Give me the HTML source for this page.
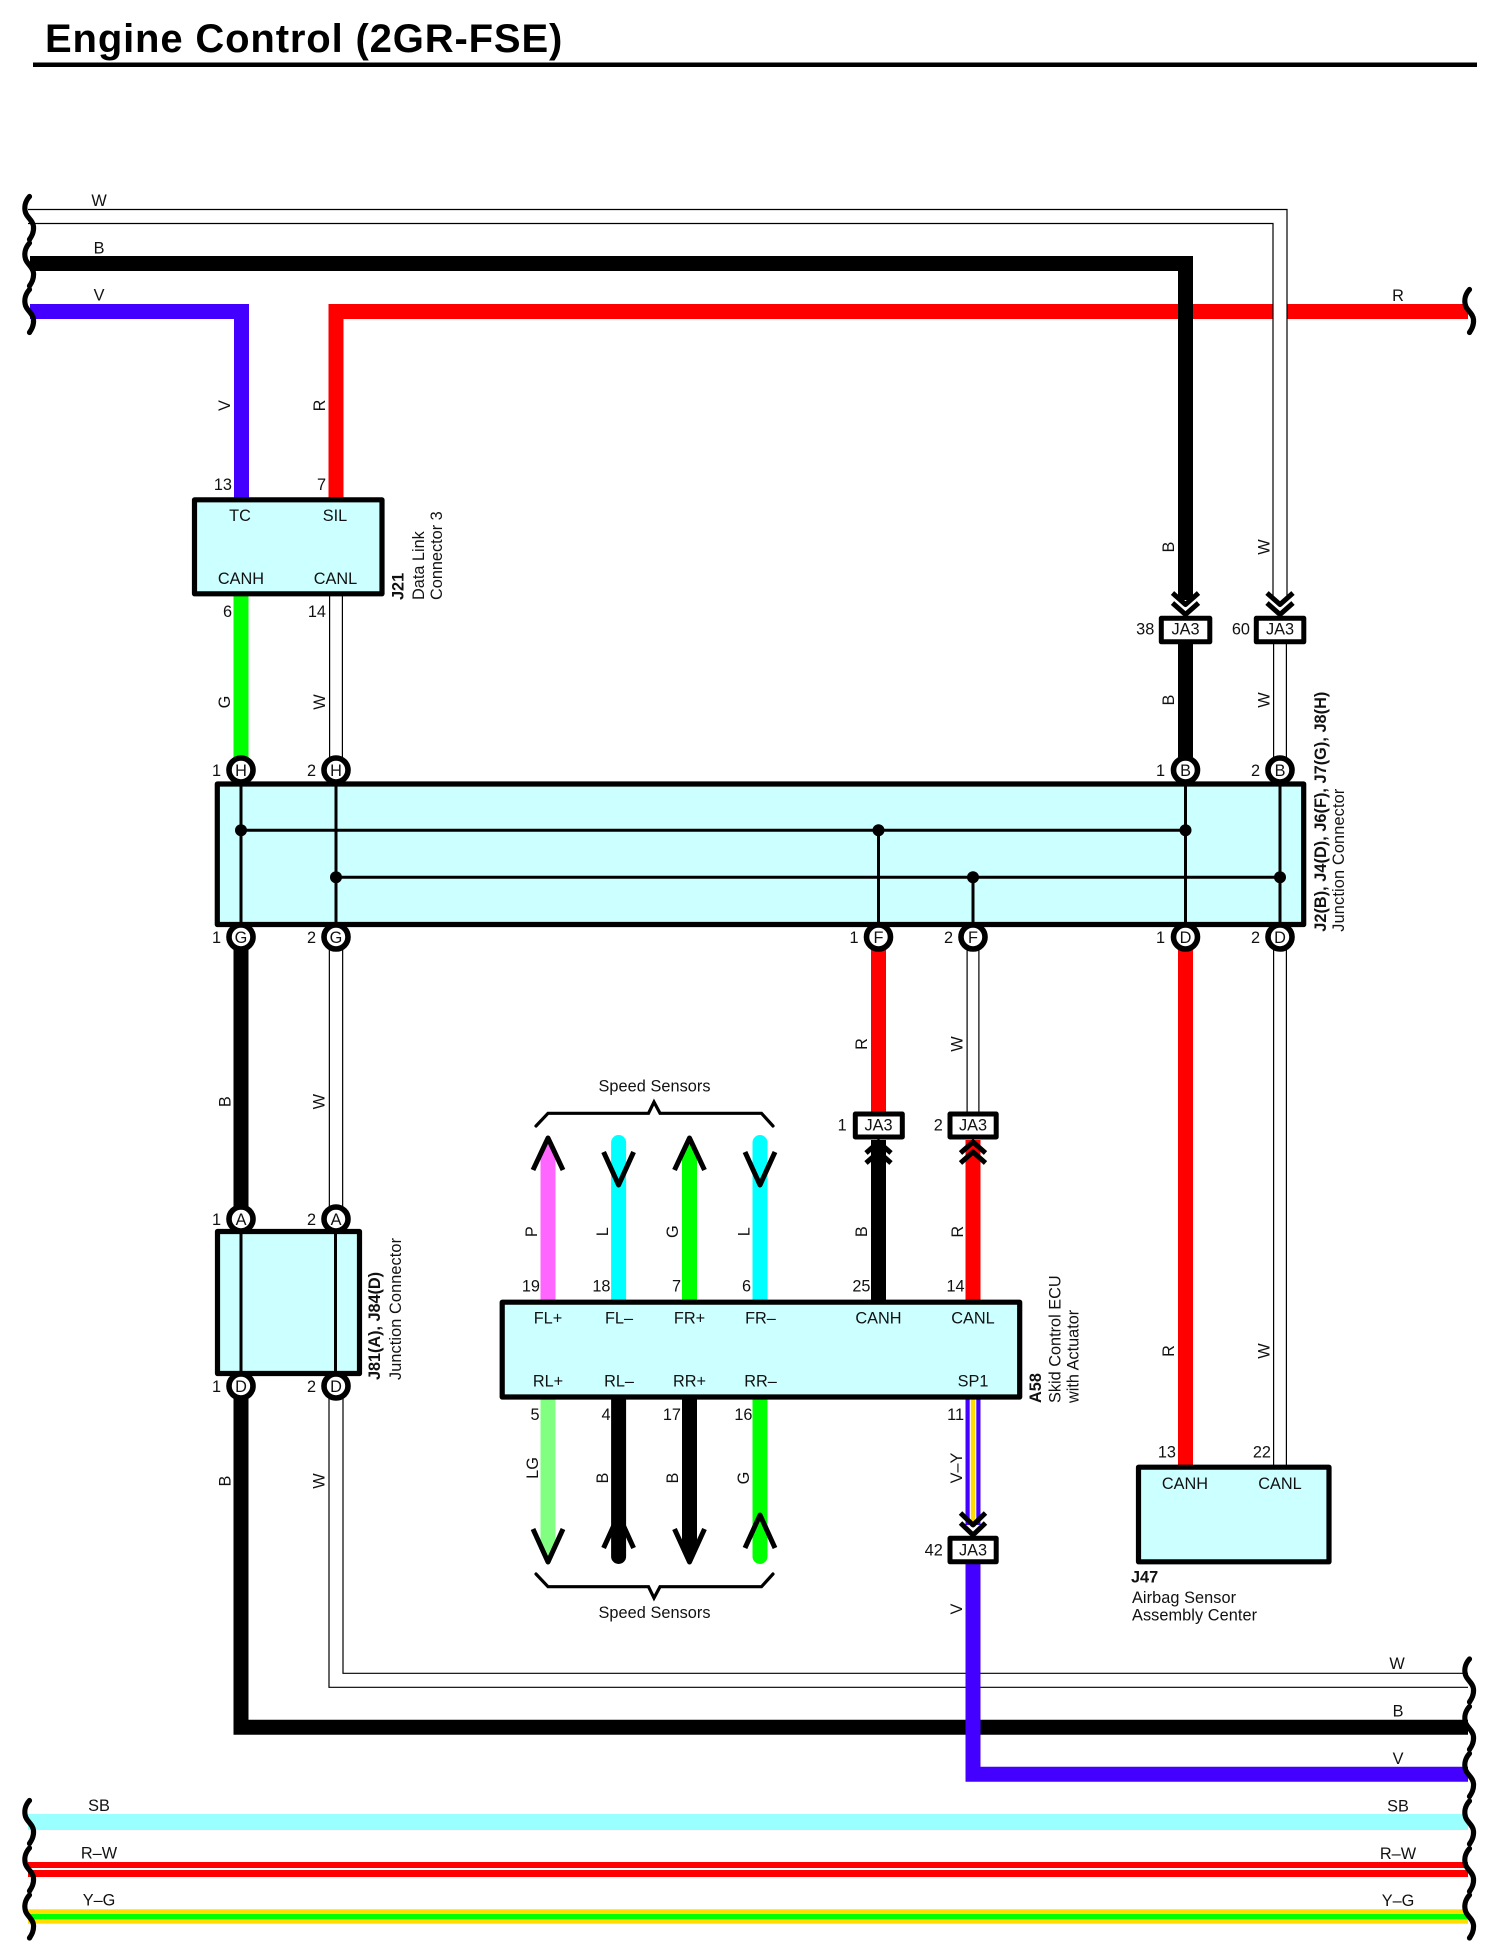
<!DOCTYPE html>
<html><head><meta charset="utf-8"><title>Engine Control (2GR-FSE)</title>
<style>
html,body{margin:0;padding:0;background:#fff}
svg{display:block}
text{font-family:"Liberation Sans",sans-serif;font-size:16.3px;fill:#111}
.m{text-anchor:middle}.e{text-anchor:end}
.b{font-weight:bold}
.w{fill:none;stroke-linejoin:miter}
.br{fill:none;stroke:#000;stroke-width:5.2;stroke-linecap:round}
.ar{fill:none;stroke:#000;stroke-width:5;stroke-linecap:butt;stroke-linejoin:round}
.bx{fill:#ccffff;stroke:#000;stroke-width:5.2;stroke-linejoin:round}
.ja{fill:#fff;stroke:#000;stroke-width:5;stroke-linejoin:round}
.c{fill:#fff;stroke:#000;stroke-width:5.6}
.l{stroke:#000;stroke-width:3;fill:none}
.bk{fill:none;stroke:#000;stroke-width:3.2;stroke-linejoin:miter;stroke-linecap:round}
</style></head><body>
<svg width="1500" height="1956" viewBox="0 0 1500 1956" xmlns="http://www.w3.org/2000/svg">
<rect width="1500" height="1956" fill="#fff"/>
<text x="45" y="52" class="b" style="font-size:40px;fill:#000;letter-spacing:.85px">Engine Control (2GR-FSE)</text>
<rect x="33" y="62.5" width="1444" height="4.5" fill="#000"/>

<!-- long wires -->
<path class="w" d="M30 311.5H241.5V498" stroke="#4400ff" stroke-width="15"/>
<path class="w" d="M336 498V311.5H1468" stroke="#ff0000" stroke-width="15"/>
<path class="w" d="M30 263.5H1185.5V600" stroke="#000" stroke-width="15"/>
<path class="w" d="M28 216.5H1280V600" stroke="#000" stroke-width="15.2"/>
<path class="w" d="M20 216.5H1280V600" stroke="#fff" stroke-width="12.8"/>
<path class="w" d="M241 596V770" stroke="#00ff00" stroke-width="15"/>
<path class="w" d="M336 596V770" stroke="#000" stroke-width="14"/>
<path class="w" d="M336 596V770" stroke="#fff" stroke-width="11.6"/>
<path class="w" d="M1185.5 640V770" stroke="#000" stroke-width="15"/>
<path class="w" d="M1280 640V770" stroke="#000" stroke-width="14"/>
<path class="w" d="M1280 640V770" stroke="#fff" stroke-width="11.6"/>

<path class="w" d="M241 936V1220" stroke="#000" stroke-width="15"/>
<path class="w" d="M336 936V1220" stroke="#000" stroke-width="14.5"/>
<path class="w" d="M336 936V1220" stroke="#fff" stroke-width="12.1"/>
<path class="w" d="M241 1386V1727.3H1468" stroke="#000" stroke-width="15"/>
<path class="w" d="M336 1386V1680.3H1468" stroke="#000" stroke-width="15.2"/>
<path class="w" d="M336 1386V1680.3H1480" stroke="#fff" stroke-width="12.8"/>
<path class="w" d="M973 1560V1774.2H1468" stroke="#4400ff" stroke-width="15"/>

<path class="w" d="M878.5 936V1115" stroke="#ff0000" stroke-width="15"/>
<path class="w" d="M973 936V1115" stroke="#000" stroke-width="13"/>
<path class="w" d="M973 936V1115" stroke="#fff" stroke-width="10.6"/>
<path class="w" d="M1185.5 936V1466" stroke="#ff0000" stroke-width="15"/>
<path class="w" d="M1280 936V1466" stroke="#000" stroke-width="14"/>
<path class="w" d="M1280 936V1466" stroke="#fff" stroke-width="11.6"/>

<!-- bottom buses -->
<rect x="28" y="1814" width="1440" height="16" fill="#99ffff"/>
<rect x="28" y="1862" width="1440" height="15" fill="#ff0000"/>
<rect x="28" y="1868" width="1440" height="2" fill="#fff"/>
<rect x="28" y="1909.3" width="1440" height="14.4" fill="#ffdd00"/>
<rect x="28" y="1914" width="1440" height="5.2" fill="#00ff00"/>

<!-- ECU wires top -->
<rect x="540.5" y="1150" width="15" height="152" fill="#ff66ff"/>
<polygon points="540.5,1151 548,1137 555.5,1151" fill="#ff66ff"/>
<path d="M618.6 1142.5V1302" stroke="#00ffff" stroke-width="15" stroke-linecap="round" fill="none"/>
<rect x="682" y="1150" width="15" height="152" fill="#00ff00"/>
<polygon points="682,1151 689.5,1137 697,1151" fill="#00ff00"/>
<path d="M760 1142.5V1302" stroke="#00ffff" stroke-width="15" stroke-linecap="round" fill="none"/>
<rect x="871" y="1140" width="15" height="162" fill="#000"/>
<rect x="965.5" y="1140" width="15" height="162" fill="#ff0000"/>
<!-- ECU wires bottom -->
<rect x="540.5" y="1397" width="15" height="152" fill="#80ff80"/>
<polygon points="540.5,1548 548,1563 555.5,1548" fill="#80ff80"/>
<path d="M618.6 1397V1556.5" stroke="#000" stroke-width="15" stroke-linecap="round" fill="none"/>
<rect x="682" y="1397" width="15" height="152" fill="#000"/>
<polygon points="682,1548 689.5,1563 697,1548" fill="#000"/>
<path d="M760 1397V1556.5" stroke="#00ff00" stroke-width="15" stroke-linecap="round" fill="none"/>
<rect x="965.5" y="1397" width="15" height="128" fill="#4400ff"/>
<rect x="969.7" y="1397" width="6.6" height="127" fill="#fff"/>
<rect x="970.8" y="1397" width="4.4" height="126" fill="#ffd800"/>

<!-- arrow heads -->
<path class="ar" d="M533 1170L548 1138L563 1170M674.5 1170L689.5 1138L704.5 1170"/>
<path class="ar" d="M603.6 1152L618.6 1185L633.6 1152M745 1152L760 1185L775 1152"/>
<path class="ar" d="M533 1529L548 1562L563 1529M674.5 1529L689.5 1562L704.5 1529"/>
<path class="ar" d="M603.6 1548L618.6 1515L633.6 1548M745 1548L760 1515L775 1548"/>

<!-- chevrons -->
<path class="ar" d="M1172.5 593L1185.5 604.5L1198.5 593M1172.5 603L1185.5 614.5L1198.5 603"/>
<path class="ar" d="M1267 593L1280 604.5L1293 593M1267 603L1280 614.5L1293 603"/>
<path class="ar" d="M866 1153L878.5 1142L891 1153M866 1163L878.5 1152L891 1163"/>
<path class="ar" d="M960.5 1153L973 1142L985.5 1153M960.5 1163L973 1152L985.5 1163"/>
<path class="ar" d="M960.5 1513L973 1525L985.5 1513M960.5 1523L973 1535L985.5 1523"/>

<!-- brackets -->
<path class="bk" d="M536 1126L548 1113.3H648.5L654 1102L660 1113.3H761.5L773 1126"/>
<path class="bk" d="M536 1574L548 1586.7H648.5L654 1598L660 1586.7H761.5L773 1574"/>

<!-- boxes -->
<rect class="bx" x="194.5" y="499.8" width="187.5" height="94"/>
<rect class="bx" x="217.3" y="784" width="1086.4" height="140.5"/>
<rect class="bx" x="217.5" y="1231.5" width="142" height="142"/>
<rect class="bx" x="502.2" y="1302.2" width="517.5" height="94.8"/>
<rect class="bx" x="1138.5" y="1467.2" width="190.5" height="94.6"/>

<!-- inner lines -->
<path class="l" d="M241 784V925M336 784V925M1185.5 784V925M1280 784V925M241 830.3H1185.5M336 877.3H1280M878.5 830.3V925M973 877.3V925"/>
<path class="l" d="M241 1231V1376M335.5 1231V1376"/>
<g fill="#000">
<circle cx="241" cy="830.3" r="6"/><circle cx="336" cy="877.3" r="6"/>
<circle cx="878.5" cy="830.3" r="6"/><circle cx="973" cy="877.3" r="6"/>
<circle cx="1185.5" cy="830.3" r="6"/><circle cx="1280" cy="877.3" r="6"/>
</g>

<!-- JA3 connectors -->
<rect class="ja" x="1161.3" y="618.3" width="48.5" height="23.5"/>
<rect class="ja" x="1256.3" y="618.3" width="47.5" height="23.5"/>
<rect class="ja" x="855.3" y="1114" width="47" height="23"/>
<rect class="ja" x="950" y="1114" width="46.2" height="23"/>
<rect class="ja" x="950" y="1538.3" width="46.2" height="23.5"/>
<text class="m" x="1185.5" y="634.3">JA3</text><text class="m" x="1280" y="634.3">JA3</text>
<text class="m" x="878.5" y="1130.7">JA3</text><text class="m" x="973" y="1130.7">JA3</text>
<text class="m" x="973" y="1555.7">JA3</text>
<text class="e" x="1154.3" y="634.3">38</text><text class="e" x="1250" y="634.3">60</text>
<text class="e" x="846.7" y="1130.7">1</text><text class="e" x="942.8" y="1130.7">2</text>
<text class="e" x="942.8" y="1555.7">42</text>

<!-- circles -->
<g>
<circle class="c" cx="241" cy="770" r="12"/><circle class="c" cx="336" cy="770" r="12"/>
<circle class="c" cx="1185.5" cy="770" r="12"/><circle class="c" cx="1280" cy="770" r="12"/>
<circle class="c" cx="241" cy="937" r="12"/><circle class="c" cx="336" cy="937" r="12"/>
<circle class="c" cx="878.5" cy="937" r="12"/><circle class="c" cx="973" cy="937" r="12"/>
<circle class="c" cx="1185.5" cy="937" r="12"/><circle class="c" cx="1280" cy="937" r="12"/>
<circle class="c" cx="241" cy="1219" r="12"/><circle class="c" cx="336" cy="1219" r="12"/>
<circle class="c" cx="241" cy="1386" r="12"/><circle class="c" cx="336" cy="1386" r="12"/>
</g>
<g class="m">
<text class="m" x="241" y="776">H</text><text class="m" x="336" y="776">H</text>
<text class="m" x="1185.5" y="776">B</text><text class="m" x="1280" y="776">B</text>
<text class="m" x="241" y="943">G</text><text class="m" x="336" y="943">G</text>
<text class="m" x="878.5" y="943">F</text><text class="m" x="973" y="943">F</text>
<text class="m" x="1185.5" y="943">D</text><text class="m" x="1280" y="943">D</text>
<text class="m" x="241" y="1225">A</text><text class="m" x="336" y="1225">A</text>
<text class="m" x="241" y="1392">D</text><text class="m" x="336" y="1392">D</text>
</g>
<text class="e" x="221" y="776">1</text><text class="e" x="316" y="776">2</text>
<text class="e" x="1165" y="776">1</text><text class="e" x="1260" y="776">2</text>
<text class="e" x="221" y="943">1</text><text class="e" x="316" y="943">2</text>
<text class="e" x="858.5" y="943">1</text><text class="e" x="953" y="943">2</text>
<text class="e" x="1165" y="943">1</text><text class="e" x="1260" y="943">2</text>
<text class="e" x="221" y="1225">1</text><text class="e" x="316" y="1225">2</text>
<text class="e" x="221" y="1392">1</text><text class="e" x="316" y="1392">2</text>

<!-- pin names -->
<text class="m" x="240" y="521">TC</text><text class="m" x="335" y="521">SIL</text>
<text class="m" x="241" y="584">CANH</text><text class="m" x="335.5" y="584">CANL</text>
<text class="e" x="232" y="490">13</text><text class="e" x="326" y="490">7</text>
<text class="e" x="232" y="617">6</text><text class="e" x="326" y="617">14</text>

<text class="m" x="548" y="1323.5">FL+</text><text class="m" x="619" y="1323.5">FL–</text>
<text class="m" x="689.5" y="1323.5">FR+</text><text class="m" x="760.5" y="1323.5">FR–</text>
<text class="m" x="878.5" y="1323.5">CANH</text><text class="m" x="973" y="1323.5">CANL</text>
<text class="m" x="548" y="1386.7">RL+</text><text class="m" x="619" y="1386.7">RL–</text>
<text class="m" x="689.5" y="1386.7">RR+</text><text class="m" x="760.5" y="1386.7">RR–</text>
<text class="m" x="973" y="1386.7">SP1</text>
<text class="e" x="540" y="1291.7">19</text><text class="e" x="610.5" y="1291.7">18</text>
<text class="e" x="681" y="1291.7">7</text><text class="e" x="751" y="1291.7">6</text>
<text class="e" x="870.5" y="1291.7">25</text><text class="e" x="964.6" y="1291.7">14</text>
<text class="e" x="539.5" y="1420">5</text><text class="e" x="610.5" y="1420">4</text>
<text class="e" x="681" y="1420">17</text><text class="e" x="752.5" y="1420">16</text>
<text class="e" x="964" y="1420">11</text>

<text class="m" x="1185" y="1489">CANH</text><text class="m" x="1280" y="1489">CANL</text>
<text class="e" x="1176" y="1457.6">13</text><text class="e" x="1271" y="1457.6">22</text>
<text x="1131" y="1582.4" class="b">J47</text>
<text x="1132" y="1603" textLength="104">Airbag Sensor</text>
<text x="1132" y="1620.7" textLength="125">Assembly Center</text>

<text class="m" x="654.5" y="1091.7" textLength="112">Speed Sensors</text>
<text class="m" x="654.5" y="1618" textLength="112">Speed Sensors</text>

<!-- horizontal wire labels -->
<text class="m" x="99" y="206">W</text><text class="m" x="99" y="253.7">B</text><text class="m" x="99" y="300.6">V</text>
<text class="m" x="1398" y="301">R</text>
<text class="m" x="1397" y="1669">W</text><text class="m" x="1398" y="1716.4">B</text><text class="m" x="1398" y="1764">V</text>
<text class="m" x="1398" y="1811.5">SB</text><text class="m" x="1398" y="1859">R–W</text><text class="m" x="1398" y="1906">Y–G</text>
<text class="m" x="99" y="1811">SB</text><text class="m" x="99" y="1858.7">R–W</text><text class="m" x="99" y="1905.7">Y–G</text>

<!-- vertical wire labels -->
<g class="m" transform="translate(-1 0)">
<text class="m" transform="translate(231,405.5) rotate(-90)">V</text>
<text class="m" transform="translate(326,405.5) rotate(-90)">R</text>
<text class="m" transform="translate(231,702) rotate(-90)">G</text>
<text class="m" transform="translate(326,702) rotate(-90)">W</text>
<text class="m" transform="translate(1175,547) rotate(-90)">B</text>
<text class="m" transform="translate(1270.5,547) rotate(-90)">W</text>
<text class="m" transform="translate(1175,700) rotate(-90)">B</text>
<text class="m" transform="translate(1270.5,700) rotate(-90)">W</text>
<text class="m" transform="translate(231.5,1101.7) rotate(-90)">B</text>
<text class="m" transform="translate(325.7,1101.7) rotate(-90)">W</text>
<text class="m" transform="translate(231.5,1481) rotate(-90)">B</text>
<text class="m" transform="translate(325.7,1481) rotate(-90)">W</text>
<text class="m" transform="translate(868,1044) rotate(-90)">R</text>
<text class="m" transform="translate(963.5,1044) rotate(-90)">W</text>
<text class="m" transform="translate(1175,1351) rotate(-90)">R</text>
<text class="m" transform="translate(1270.5,1351) rotate(-90)">W</text>
<text class="m" transform="translate(538,1231.7) rotate(-90)">P</text>
<text class="m" transform="translate(609,1231.7) rotate(-90)">L</text>
<text class="m" transform="translate(679,1231.7) rotate(-90)">G</text>
<text class="m" transform="translate(750.6,1231.7) rotate(-90)">L</text>
<text class="m" transform="translate(868,1231.7) rotate(-90)">B</text>
<text class="m" transform="translate(963.8,1231.7) rotate(-90)">R</text>
<text class="m" transform="translate(539,1468) rotate(-90)">LG</text>
<text class="m" transform="translate(609,1478) rotate(-90)">B</text>
<text class="m" transform="translate(679,1478) rotate(-90)">B</text>
<text class="m" transform="translate(750,1478) rotate(-90)">G</text>
<text class="m" transform="translate(963,1468) rotate(-90)">V–Y</text>
<text class="m" transform="translate(963,1609) rotate(-90)">V</text>
</g>

<!-- component side titles -->
<text class="b" transform="translate(403.5,600) rotate(-90)">J21</text>
<text transform="translate(424,600) rotate(-90)">Data Link</text>
<text transform="translate(442,600) rotate(-90)">Connector 3</text>
<text class="b" transform="translate(1326,931.7) rotate(-90)" textLength="240">J2(B), J4(D), J6(F), J7(G), J8(H)</text>
<text transform="translate(1344,931.7) rotate(-90)" textLength="143">Junction Connector</text>
<text class="b" transform="translate(380,1380) rotate(-90)" textLength="108">J81(A), J84(D)</text>
<text transform="translate(401,1380) rotate(-90)" textLength="142">Junction Connector</text>
<text class="b" transform="translate(1041,1403) rotate(-90)">A58</text>
<text transform="translate(1060.6,1403) rotate(-90)">Skid Control ECU</text>
<text transform="translate(1078.6,1403) rotate(-90)">with Actuator</text>

<!-- break marks -->
<defs>
<path id="wv" class="br" d="M5.5 0C1 5 0 11 1.5 16C3 21 9 24 9.5 30C10 36 7.5 40 5.5 43"/>
</defs>
<g>
<use href="#wv" x="24" y="196.5"/><use href="#wv" x="24" y="243"/><use href="#wv" x="24" y="289.5"/>
<use href="#wv" x="24" y="1800.5"/><use href="#wv" x="24" y="1848"/><use href="#wv" x="24" y="1895"/>
<use href="#wv" x="1464" y="289.5"/>
<use href="#wv" x="1464" y="1659"/><use href="#wv" x="1464" y="1706.5"/><use href="#wv" x="1464" y="1753.5"/>
<use href="#wv" x="1464" y="1801"/><use href="#wv" x="1464" y="1848.5"/><use href="#wv" x="1464" y="1895"/>
</g>
</svg>
</body></html>
